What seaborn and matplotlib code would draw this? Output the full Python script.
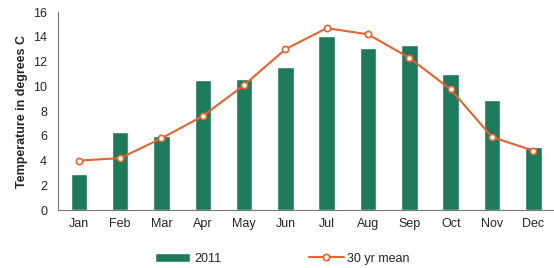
import matplotlib
matplotlib.use("Agg")
import matplotlib.pyplot as plt
import seaborn as sns
import pandas as pd

months = ["Jan", "Feb", "Mar", "Apr", "May", "Jun", "Jul", "Aug", "Sep", "Oct", "Nov", "Dec"]
temp_2011 = [2.9, 6.3, 6.0, 10.5, 10.6, 11.6, 14.1, 13.1, 13.3, 11.0, 8.9, 5.1]
mean_30yr = [4.0, 4.2, 5.8, 7.6, 10.1, 13.0, 14.7, 14.2, 12.3, 9.75, 5.9, 4.8]

sns.set_style("white")
plt.rcParams['font.family'] = ['Liberation Sans', 'DejaVu Sans']

df = pd.DataFrame({"month": months, "2011": temp_2011, "mean": mean_30yr})

fig = plt.figure(figsize=(5.54, 2.68), dpi=100)
ax = fig.add_axes([0.105, 0.216, 0.895, 0.739])

green = "#1d7a5a"
orange = "#e9622e"

sns.barplot(data=df, x="month", y="2011", color=green, width=0.4,
            saturation=1, ax=ax, label="2011")
sns.lineplot(data=df, x="month", y="mean", color=orange, linewidth=1.5,
             marker="o", markersize=4.5, markerfacecolor="white",
             markeredgecolor=orange, markeredgewidth=1.2, sort=False,
             ax=ax, label="30 yr mean")

ax.set_xlim(-0.5, 11.5)
ax.set_ylim(0, 16)
ax.set_yticks(range(0, 17, 2))
ax.set_xlabel("")
ax.set_ylabel("Temperature in degrees C", fontsize=9, fontweight="bold")

for s in ["top", "right"]:
    ax.spines[s].set_visible(False)
for s in ["left", "bottom"]:
    ax.spines[s].set_color("#777777")
    ax.spines[s].set_linewidth(0.8)

ax.set_xticks([i + 0.5 for i in range(-1, 12)], minor=True)
ax.tick_params(axis="x", which="major", length=0, labelsize=9, pad=6)
ax.tick_params(axis="x", which="minor", length=4, direction="inout", color="#777777")
ax.tick_params(axis="y", length=4, direction="inout", color="#777777", labelsize=9, pad=6)

ax.get_legend().remove()
h, l = ax.get_legend_handles_labels()
# bars first, then the line
order = [l.index("2011"), l.index("30 yr mean")]
fig.legend([h[i] for i in order], [l[i] for i in order], loc="lower center",
           ncol=2, frameon=False, fontsize=9, bbox_to_anchor=(0.51, -0.03),
           columnspacing=7.0, handlelength=2.8, handletextpad=0.3)

fig.savefig("out.png", dpi=100)
